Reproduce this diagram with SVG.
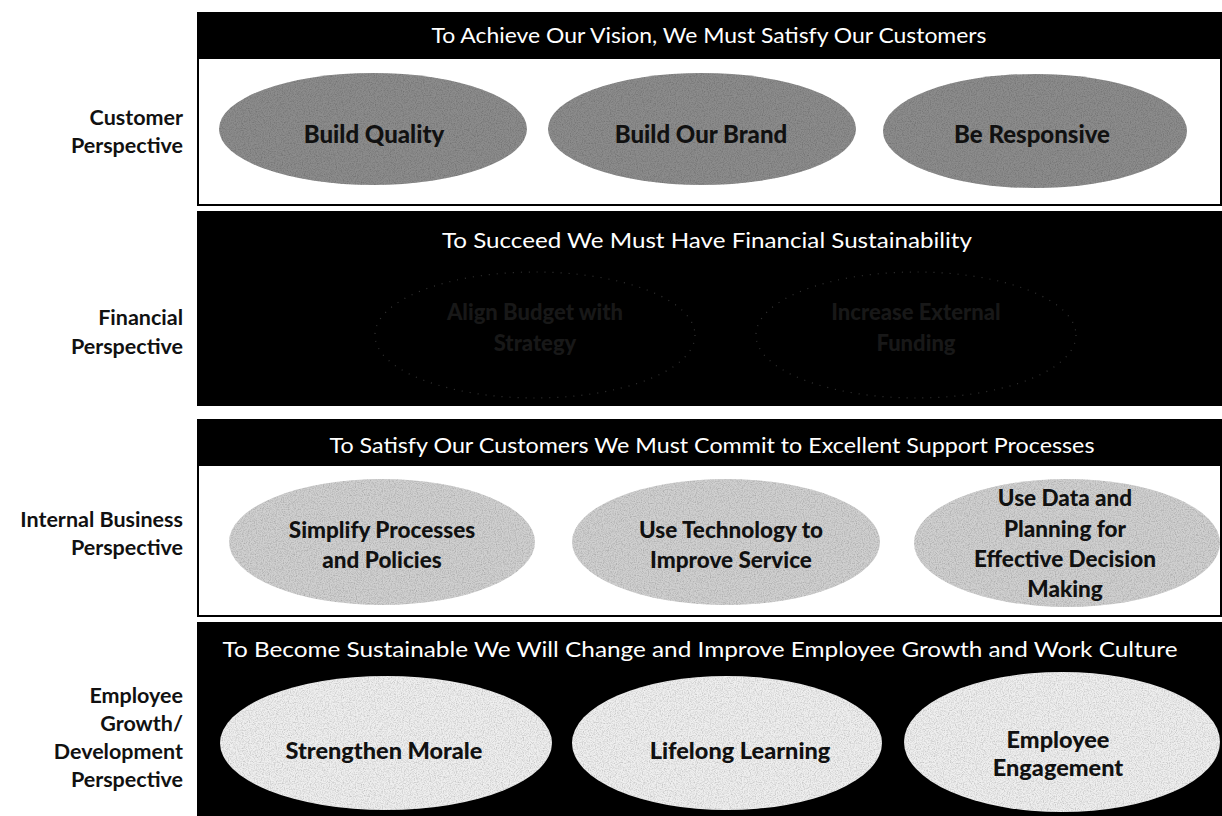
<svg xmlns="http://www.w3.org/2000/svg" width="1222" height="816" viewBox="0 0 1222 816">
<style>
  .lbl{font-family:Lato,"Open Sans","Liberation Sans",sans-serif;font-weight:bold;font-size:21.5px;fill:#111;text-anchor:end}
  .hdr{font-family:Lato,"Open Sans","Liberation Sans",sans-serif;font-size:21px;fill:#fff;text-anchor:middle}
  .ct{font-family:Lato,"Open Sans","Liberation Sans",sans-serif;font-weight:900;font-size:24px;fill:#111;text-anchor:middle}
  .et{font-family:Lato,"Open Sans","Liberation Sans",sans-serif;font-weight:900;font-size:22.5px;fill:#111;text-anchor:middle}
  .mt{font-family:Lato,"Open Sans","Liberation Sans",sans-serif;font-weight:900;font-size:23.5px;fill:#111;text-anchor:middle}
  .ft{font-family:Lato,"Open Sans","Liberation Sans",sans-serif;font-weight:900;font-size:22px;fill:#181818;text-anchor:middle}
  .bar{fill:#000}
  .box{fill:#fff;stroke:#000;stroke-width:2}
  .cust{fill:#8c8c8c}
  .fin{fill:#000;stroke:#333;stroke-width:1.2;stroke-dasharray:1 7}
  .intl{fill:#d0d0d0}
  .emp{fill:#efefef}
</style>
<defs>
  <filter id="speck" x="0" y="0" width="100%" height="100%">
    <feTurbulence type="fractalNoise" baseFrequency="0.85" numOctaves="2" seed="4" result="n"/>
    <feColorMatrix in="n" type="matrix" values="0 0 0 0 0  0 0 0 0 0  0 0 0 0 0  0 0 0 -2.2 1.35" result="a"/>
    <feComposite in="a" in2="SourceGraphic" operator="in" result="sp"/>
    <feComponentTransfer in="sp" result="sp2"><feFuncA type="linear" slope="0.35"/></feComponentTransfer>
    <feMerge><feMergeNode in="SourceGraphic"/><feMergeNode in="sp2"/></feMerge>
  </filter>
</defs>
<rect width="1222" height="816" fill="#fff"/>

<!-- Row labels -->
<g id="label-customer">
  <text class="lbl" x="183" y="125">Customer</text>
  <text class="lbl" x="183" y="153">Perspective</text>
</g>
<g id="label-financial">
  <text class="lbl" x="183" y="325">Financial</text>
  <text class="lbl" x="183" y="354">Perspective</text>
</g>
<g id="label-internal">
  <text class="lbl" x="183" y="527">Internal Business</text>
  <text class="lbl" x="183" y="555">Perspective</text>
</g>
<g id="label-employee">
  <text class="lbl" x="183" y="703">Employee</text>
  <text class="lbl" x="183" y="731">Growth/</text>
  <text class="lbl" x="183" y="759">Development</text>
  <text class="lbl" x="183" y="787">Perspective</text>
</g>

<!-- Customer band -->
<g id="band-customer">
  <rect class="box" x="198" y="58" width="1023" height="147"/>
  <rect class="bar" x="197" y="12" width="1025" height="46"/>
  <text class="hdr" x="709" y="43" textLength="555" lengthAdjust="spacingAndGlyphs">To Achieve Our Vision, We Must Satisfy Our Customers</text>
</g>
<g id="node-build-quality">
  <ellipse class="cust" cx="373" cy="129" rx="154" ry="56" filter="url(#speck)"/>
  <text class="ct" x="374" y="143">Build Quality</text>
</g>
<g id="node-build-our-brand">
  <ellipse class="cust" cx="702" cy="129" rx="154" ry="56" filter="url(#speck)"/>
  <text class="ct" x="701" y="143">Build Our Brand</text>
</g>
<g id="node-be-responsive">
  <ellipse class="cust" cx="1035" cy="131" rx="152" ry="57" filter="url(#speck)"/>
  <text class="ct" x="1032" y="143">Be Responsive</text>
</g>

<!-- Financial band -->
<g id="band-financial">
  <rect class="bar" x="197" y="211" width="1025" height="195"/>
  <text class="hdr" x="707" y="248" textLength="530" lengthAdjust="spacingAndGlyphs">To Succeed We Must Have Financial Sustainability</text>
</g>
<g id="node-financial-1">
  <ellipse class="fin" cx="535" cy="335" rx="160" ry="63"/>
  <text class="ft" x="535" y="320">Align Budget with</text>
  <text class="ft" x="535" y="351">Strategy</text>
</g>
<g id="node-financial-2">
  <ellipse class="fin" cx="916" cy="335" rx="160" ry="63"/>
  <text class="ft" x="916" y="320">Increase External</text>
  <text class="ft" x="916" y="351">Funding</text>
</g>

<!-- Internal band -->
<g id="band-internal">
  <rect class="box" x="198" y="465" width="1023" height="151"/>
  <rect class="bar" x="197" y="419" width="1025" height="46"/>
  <text class="hdr" x="712" y="453" textLength="765" lengthAdjust="spacingAndGlyphs">To Satisfy Our Customers We Must Commit to Excellent Support Processes</text>
</g>
<g id="node-simplify">
  <ellipse class="intl" cx="382" cy="542" rx="153" ry="63" filter="url(#speck)"/>
  <text class="et" x="382" y="538">Simplify Processes</text>
  <text class="et" x="382" y="568">and Policies</text>
</g>
<g id="node-technology">
  <ellipse class="intl" cx="726" cy="542" rx="154" ry="63" filter="url(#speck)"/>
  <text class="et" x="731" y="538">Use Technology to</text>
  <text class="et" x="731" y="568">Improve Service</text>
</g>
<g id="node-data">
  <ellipse class="intl" cx="1067" cy="543" rx="153" ry="64" filter="url(#speck)"/>
  <text class="et" x="1065" y="506">Use Data and</text>
  <text class="et" x="1065" y="537">Planning for</text>
  <text class="et" x="1065" y="567">Effective Decision</text>
  <text class="et" x="1065" y="597">Making</text>
</g>

<!-- Employee band -->
<g id="band-employee">
  <rect class="bar" x="197" y="622" width="1025" height="194"/>
  <text class="hdr" x="700" y="657" textLength="955" lengthAdjust="spacingAndGlyphs">To Become Sustainable We Will Change and Improve  Employee Growth and Work Culture</text>
</g>
<g id="node-morale">
  <ellipse class="emp" cx="386" cy="743" rx="166" ry="67" filter="url(#speck)"/>
  <text class="mt" x="384" y="759">Strengthen Morale</text>
</g>
<g id="node-learning">
  <ellipse class="emp" cx="727" cy="743" rx="155" ry="67" filter="url(#speck)"/>
  <text class="mt" x="740" y="759">Lifelong Learning</text>
</g>
<g id="node-engagement">
  <ellipse class="emp" cx="1062" cy="742" rx="158" ry="70" filter="url(#speck)"/>
  <text class="mt" x="1058" y="748">Employee</text>
  <text class="mt" x="1058" y="776">Engagement</text>
</g>

<g id="connectors"></g>
</svg>
